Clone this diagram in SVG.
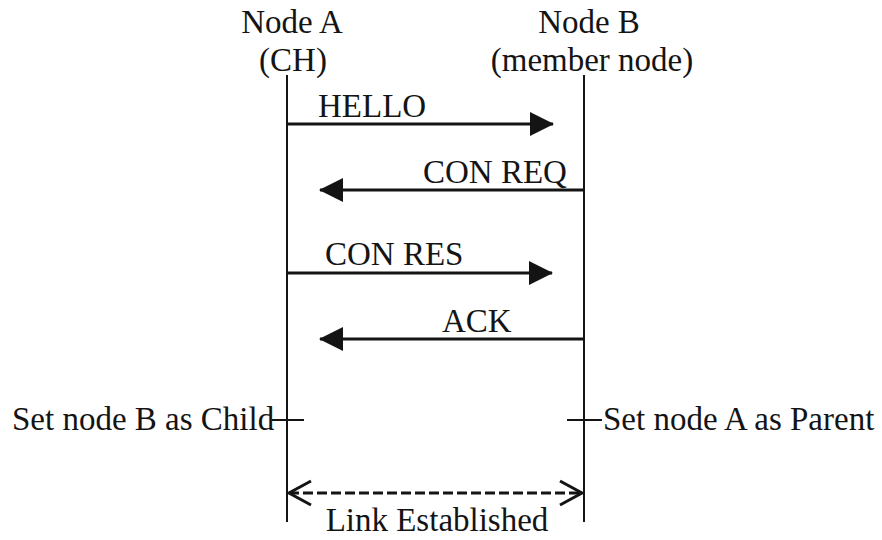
<svg xmlns="http://www.w3.org/2000/svg" width="882" height="540" viewBox="0 0 882 540">
<defs>
<style>
text{font-family:"Liberation Serif","Times New Roman",serif;font-size:33px;fill:#141414}
.life{stroke:#141414;stroke-width:2;fill:none}
.msg{stroke:#141414;stroke-width:3.2;fill:none}
.tick{stroke:#141414;stroke-width:2;fill:none}
.link{stroke:#141414;stroke-width:3;fill:none;stroke-dasharray:10 4}
.chev{stroke:#141414;stroke-width:3;fill:none}
</style>
<marker id="ah" viewBox="0 0 24 24" markerWidth="24" markerHeight="24" refX="23" refY="12" orient="auto" markerUnits="userSpaceOnUse">
<path d="M0,0 L24,12 L0,24 Z" fill="#141414"/>
</marker>
</defs>
<rect width="882" height="540" fill="#ffffff"/>
<g id="nodeA">
<text x="292" y="33" text-anchor="middle">Node A</text>
<text x="293" y="71" text-anchor="middle">(CH)</text>
<line class="life" x1="287" y1="75" x2="287" y2="522"/>
</g>
<g id="nodeB">
<text x="589" y="33" text-anchor="middle">Node B</text>
<text x="592" y="71" text-anchor="middle">(member node)</text>
<line class="life" x1="584" y1="75" x2="584" y2="522"/>
</g>
<g id="connectors">
<line class="msg" x1="287" y1="124" x2="553" y2="124" marker-end="url(#ah)"/>
<text x="318" y="117">HELLO</text>
<line class="msg" x1="584" y1="190" x2="320" y2="190" marker-end="url(#ah)"/>
<text x="423" y="183">CON REQ</text>
<line class="msg" x1="287" y1="273" x2="552" y2="273" marker-end="url(#ah)"/>
<text x="325" y="265">CON RES</text>
<line class="msg" x1="584" y1="339" x2="320" y2="339" marker-end="url(#ah)"/>
<text x="442" y="332">ACK</text>
<line class="link" x1="289" y1="493" x2="582" y2="493"/>
<polyline class="chev" points="311,481 289,493 311,505"/>
<polyline class="chev" points="560,481 582,493 560,505"/>
<text x="437" y="531" text-anchor="middle">Link Established</text>
</g>
<g id="childNote">
<line class="tick" x1="272" y1="420" x2="304" y2="420"/>
<text x="12" y="430">Set node B as Child</text>
</g>
<g id="parentNote">
<line class="tick" x1="567" y1="420" x2="602" y2="420"/>
<text x="603" y="430">Set node A as Parent</text>
</g>
</svg>
